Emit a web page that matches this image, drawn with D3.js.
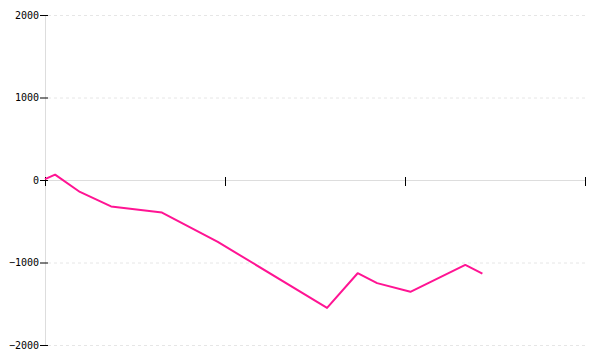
<!DOCTYPE html>
<html>
<head>
<meta charset="utf-8">
<script src="https://cdn.jsdelivr.net/npm/d3@7"></script>
<style>
  html, body { margin: 0; padding: 0; background: #fff; }
  svg { display: block; }
  text { font-family: "DejaVu Sans Mono", monospace; font-size: 10px; fill: #000; }
</style>
</head>
<body>
<svg id="chart" width="600" height="360"></svg>
<script>
// Data (x positions in arbitrary units, y values)
const xValues = [0, 0.56, 1.94, 3.67, 6.5, 9.6, 15.67, 17.37, 18.45, 20.3, 23.35, 24.3];
const yValues = [10, 65, -145, -320, -395, -750, -1550, -1130, -1250, -1355, -1030, -1135];
const yTicks = [-2000, -1000, 0, 1000, 2000];
const xTicks = [0, 10, 20, 30];

const svg = d3.select("#chart");
const x = d3.scaleLinear().domain([0, 30]).range([45, 585]);
const y = d3.scaleLinear().domain([-2000, 2000]).range([345, 15]);

// dashed gridlines
svg.append("g").selectAll("line")
  .data(yTicks.filter(d => d !== 0))
  .join("line")
  .attr("x1", 48).attr("x2", 585)
  .attr("y1", d => y(d) + 0.5).attr("y2", d => y(d) + 0.5)
  .attr("stroke", "#e6e6e6")
  .attr("stroke-dasharray", "3,3");

// y axis domain (light gray)
svg.append("line")
  .attr("x1", 45.5).attr("x2", 45.5)
  .attr("y1", y(2000)).attr("y2", y(-2000))
  .attr("stroke", "#dddddd");

// zero line (x axis domain)
svg.append("line")
  .attr("x1", 45).attr("x2", 585)
  .attr("y1", y(0) + 0.5).attr("y2", y(0) + 0.5)
  .attr("stroke", "#dddddd")
  .attr("stroke-width", 1);

// y axis ticks + labels
const yAxis = svg.append("g");
yAxis.selectAll("line")
  .data(yTicks)
  .join("line")
  .attr("x1", 40).attr("x2", 48)
  .attr("y1", d => y(d) + 0.5).attr("y2", d => y(d) + 0.5)
  .attr("stroke", "#000");
yAxis.selectAll("text")
  .data(yTicks)
  .join("text")
  .attr("x", 39)
  .attr("y", d => y(d))
  .attr("dy", "0.35em")
  .attr("text-anchor", "end")
  .text(d => d3.format("")(d).replace("-", "\u2212"));

// x axis ticks (no labels)
svg.append("g").selectAll("line")
  .data(xTicks)
  .join("line")
  .attr("x1", d => Math.round(x(d)) + 0.5).attr("x2", d => Math.round(x(d)) + 0.5)
  .attr("y1", 177).attr("y2", 186)
  .attr("stroke", "#000");

// line series
const pts = xValues.map((v, i) => [v, yValues[i]]);
svg.append("path")
  .datum(pts)
  .attr("fill", "none")
  .attr("stroke", "#ff1493")
  .attr("stroke-width", 2)
  .attr("stroke-linejoin", "round")
  .attr("d", d3.line().x(d => x(d[0])).y(d => y(d[1])));
</script>
</body>
</html>
